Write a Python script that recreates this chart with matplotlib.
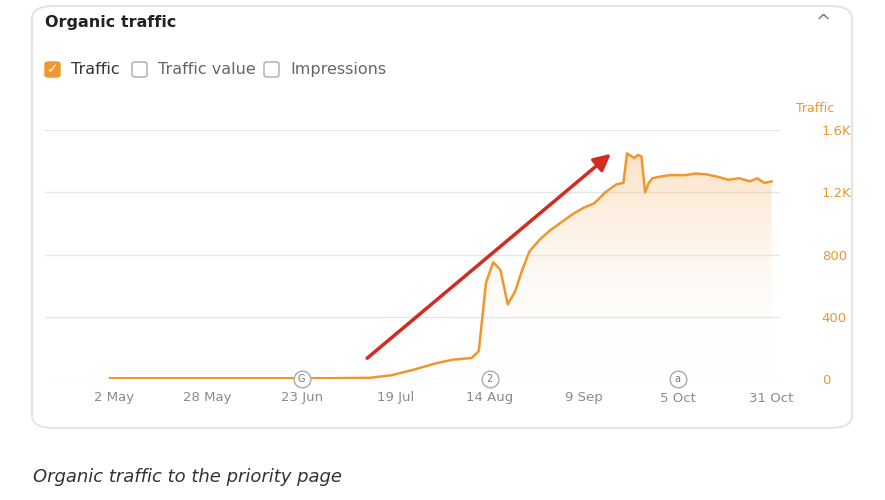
import matplotlib
matplotlib.use("Agg")
import matplotlib.pyplot as plt
import matplotlib.dates as mdates
from matplotlib.patches import FancyBboxPatch
from matplotlib.colors import LinearSegmentedColormap
import numpy as np
import datetime as dt

# data
dates = ["2023-05-01", "2023-06-01", "2023-07-01", "2023-07-12", "2023-07-18", "2023-07-24",
         "2023-07-30", "2023-08-04", "2023-08-09", "2023-08-11", "2023-08-13", "2023-08-15",
         "2023-08-17", "2023-08-19", "2023-08-21", "2023-08-23", "2023-08-25", "2023-08-28",
         "2023-08-31", "2023-09-03", "2023-09-06", "2023-09-09", "2023-09-12", "2023-09-15",
         "2023-09-18", "2023-09-20", "2023-09-21", "2023-09-23", "2023-09-24", "2023-09-25",
         "2023-09-26", "2023-09-27", "2023-09-28", "2023-09-30", "2023-10-03", "2023-10-07",
         "2023-10-10", "2023-10-13", "2023-10-16", "2023-10-19", "2023-10-22", "2023-10-25",
         "2023-10-27", "2023-10-29", "2023-10-31"]
traffic = [5, 5, 5, 8, 25, 60, 100, 125, 135, 180, 620, 750, 700, 480, 560, 700, 820, 900,
           960, 1010, 1060, 1100, 1130, 1200, 1250, 1260, 1450, 1420, 1440, 1430, 1200, 1260,
           1290, 1300, 1310, 1310, 1320, 1315, 1300, 1280, 1290, 1270, 1290, 1260, 1270]
tick_dates = ["2023-05-02", "2023-05-28", "2023-06-23", "2023-07-19", "2023-08-14",
              "2023-09-09", "2023-10-05", "2023-10-31"]
tick_labels = ["2 May", "28 May", "23 Jun", "19 Jul", "14 Aug", "9 Sep", "5 Oct", "31 Oct"]
y_ticks = [0, 400, 800, 1200, 1600]
y_labels = ["0", "400", "800", "1.2K", "1.6K"]
markers = [("2023-06-23", "G"), ("2023-08-14", "2"), ("2023-10-05", "a")]

W, H = 885, 500
orange = "#f0962e"
gray = "#8a8a8a"

fig = plt.figure(figsize=(W / 100, H / 100), dpi=100)
fig.patch.set_facecolor("white")

# card
card = FancyBboxPatch((32 / W, 1 - 428 / H), 820 / W, 422 / H,
                      boxstyle="round,pad=0,rounding_size=0.025", transform=fig.transFigure,
                      facecolor="white", edgecolor="#e4e4e4", lw=1.5, zorder=-5)
fig.patches.append(card)
fig.text(45 / W, 1 - 22 / H, "Organic traffic", fontsize=11.5, fontweight="bold",
         color="#222222", va="center")
fig.text(823 / W, 1 - 22 / H, "^", fontsize=13, color="#777777", va="center", ha="center")

# checkboxes
def checkbox(x, label, checked):
    box = FancyBboxPatch((x / W, 1 - 77 / H), 15 / W, 15 / H,
                         boxstyle="round,pad=0,rounding_size=0.004", transform=fig.transFigure,
                         facecolor=orange if checked else "white",
                         edgecolor=orange if checked else "#aaaaaa", lw=1)
    fig.patches.append(box)
    if checked:
        fig.text((x + 7.5) / W, 1 - 69.5 / H, "✓", color="white", fontsize=10,
                 fontweight="bold", ha="center", va="center")
    fig.text((x + 26) / W, 1 - 69.5 / H, label, fontsize=11.5, va="center",
             color="#333333" if checked else "#666666")

checkbox(45, "Traffic", True)
checkbox(132, "Traffic value", False)
checkbox(264, "Impressions", False)

# chart
d = [dt.datetime.strptime(s, "%Y-%m-%d") for s in dates]
ax = fig.add_axes([45 / W, 1 - 379 / H, 735 / W, 249 / H])
ax.patch.set_alpha(0)
ax.plot(d, traffic, color=orange, lw=1.8, zorder=3)
# vertical gradient fill
grad = np.linspace(0, 1, 256).reshape(-1, 1)
cmap = LinearSegmentedColormap.from_list("g", [(1, 1, 1, 0), (0.98, 0.75, 0.5, 0.55)])
xn = mdates.date2num(d)
im = ax.imshow(grad, cmap=cmap, aspect="auto", origin="lower",
               extent=[xn[0], xn[-1], 0, 1600], zorder=1)
poly = ax.fill_between(d, 0, traffic, color="none")
im.set_clip_path(poly.get_paths()[0], transform=ax.transData)

start = dt.datetime(2023, 4, 13)
ax.set_xlim(start, start + dt.timedelta(days=735 / 3.615))
ax.set_ylim(0, 1600)
ax.set_yticks(y_ticks)
ax.set_yticklabels(y_labels)
ax.yaxis.tick_right()
ax.tick_params(axis="y", length=0, pad=30, labelcolor=orange, labelsize=9.5)
td = [dt.datetime.strptime(s, "%Y-%m-%d") for s in tick_dates]
ax.set_xticks(td)
ax.set_xticklabels(tick_labels)
ax.tick_params(axis="x", length=0, pad=9, labelcolor=gray, labelsize=9.5)
ax.grid(axis="y", color="#e6e6e6", lw=1)
ax.set_axisbelow(True)
for s in ax.spines.values():
    s.set_visible(False)
fig.text(815 / W, 1 - 108 / H, "Traffic", color=orange, fontsize=9, ha="center", va="center")

for md, lab in markers:
    x = mdates.date2num(dt.datetime.strptime(md, "%Y-%m-%d"))
    ax.plot([x], [0], marker="o", ms=12, mfc="white", mec="#aaaaaa", mew=1,
            zorder=5, clip_on=False)
    ax.text(x, 0, lab, fontsize=7, color="#777777", ha="center", va="center", zorder=6)

# red arrow
fig.add_artist(matplotlib.patches.FancyArrowPatch(
    (365 / W, 1 - 360 / H), (613 / W, 1 - 152 / H), transform=fig.transFigure,
    arrowstyle="-|>,head_length=10,head_width=5", color="#d42a20", lw=2.5, zorder=10))

fig.text(33 / W, 1 - 477 / H, "Organic traffic to the priority page", fontsize=13,
         style="italic", color="#333333", va="center")

fig.savefig("out.png", dpi=100)
